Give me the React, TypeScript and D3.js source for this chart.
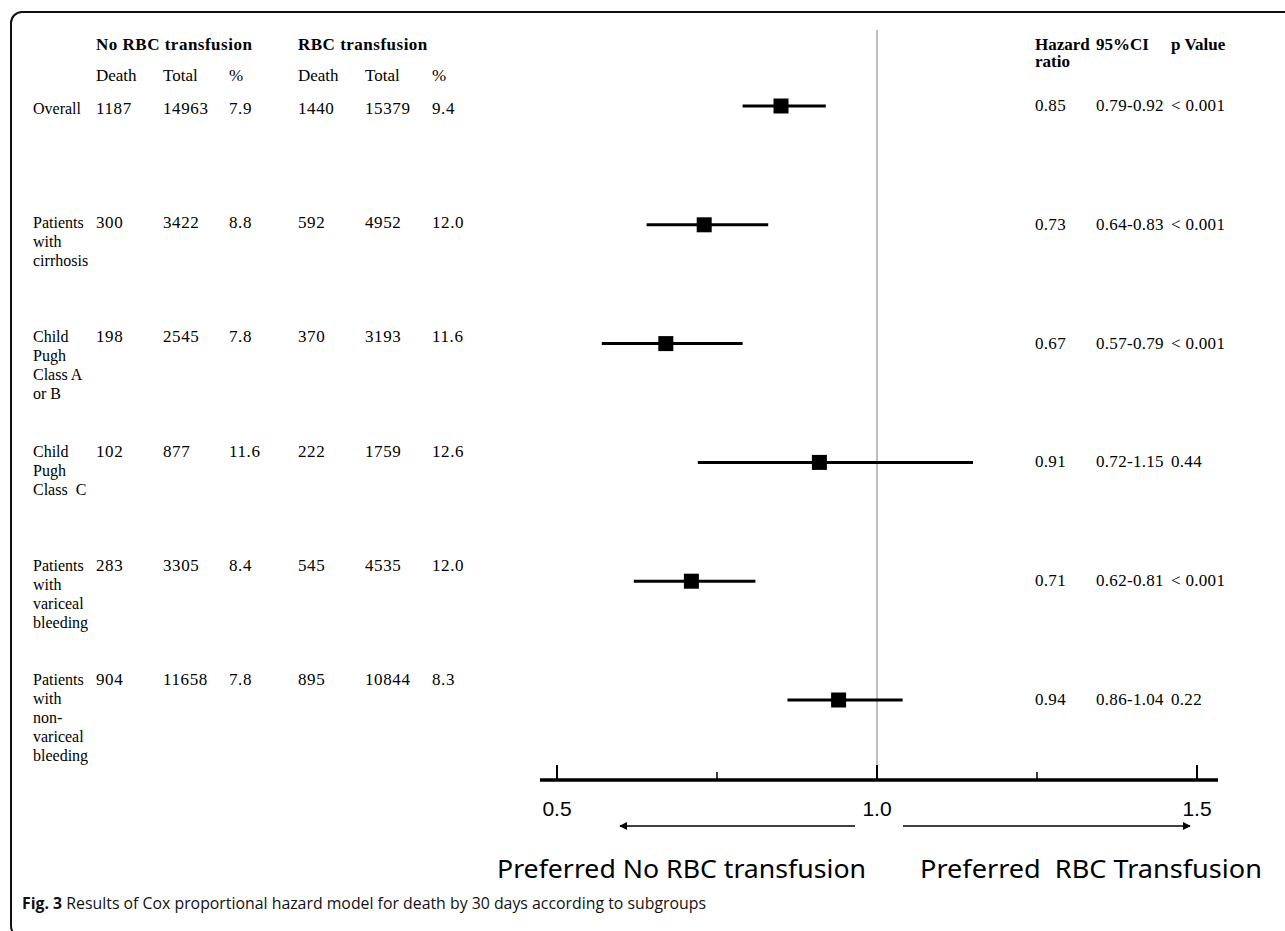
import React, { useEffect, useRef } from 'react';
import * as d3 from 'd3';

// subgroups, in the order they are drawn
const rowKeys = ['overall', 'cirrhosis', 'childAB', 'childC', 'variceal', 'nonVariceal'];
const rowLabels = [
  ['Overall'],
  ['Patients', 'with', 'cirrhosis'],
  ['Child', 'Pugh', 'Class A', 'or B'],
  ['Child', 'Pugh', 'Class  C'],
  ['Patients', 'with', 'variceal', 'bleeding'],
  ['Patients', 'with', 'non-', 'variceal', 'bleeding'],
];

const noRbcDeath = ['1187', '300', '198', '102', '283', '904'];
const noRbcTotal = ['14963', '3422', '2545', '877', '3305', '11658'];
const noRbcPct = ['7.9', '8.8', '7.8', '11.6', '8.4', '7.8'];
const rbcDeath = ['1440', '592', '370', '222', '545', '895'];
const rbcTotal = ['15379', '4952', '3193', '1759', '4535', '10844'];
const rbcPct = ['9.4', '12.0', '11.6', '12.6', '12.0', '8.3'];

const hazard = [0.85, 0.73, 0.67, 0.91, 0.71, 0.94];
const ciLow = [0.79, 0.64, 0.57, 0.72, 0.62, 0.86];
const ciHigh = [0.92, 0.83, 0.79, 1.15, 0.81, 1.04];
const pValues = ['< 0.001', '< 0.001', '< 0.001', '0.44', '< 0.001', '0.22'];

const majorTicks = [0.5, 1.0, 1.5];
const minorTicks = [0.75, 1.25];

const W = 1285;
const H = 931;

function ForestPlot() {
  const ref = useRef<SVGSVGElement>(null);

  useEffect(() => {
    const svg = d3.select(ref.current);
    svg.selectAll('*').remove();

    const serif = '"Liberation Serif", "Times New Roman", serif';
    const sans = '"Liberation Sans", Arial, sans-serif';
    const fs = '17px';

    // frame
    svg.append('rect')
      .attr('x', 11).attr('y', 12)
      .attr('width', 1320).attr('height', 925)
      .attr('rx', 11)
      .attr('fill', 'none')
      .attr('stroke', '#111')
      .attr('stroke-width', 2);

    const x = d3.scaleLinear().domain([0.5, 1.5]).range([557, 1197]);
    const y = d3.scalePoint<string>().domain(rowKeys).range([106, 700]);
    const yTable = d3.scalePoint<string>().domain(rowKeys).range([109, 680]);
    const lineH = 19;

    // left table headers
    const colX = [96, 163, 229, 298, 365, 432];
    svg.append('text').attr('x', colX[0]).attr('y', 50)
      .style('font-family', serif).style('font-size', '17px').style('font-weight', 'bold')
      .style('letter-spacing', '0.5px')
      .text('No RBC transfusion');
    svg.append('text').attr('x', colX[3]).attr('y', 50)
      .style('font-family', serif).style('font-size', '17px').style('font-weight', 'bold')
      .style('letter-spacing', '0.5px')
      .text('RBC transfusion');
    ['Death', 'Total', '%', 'Death', 'Total', '%'].forEach((t, i) => {
      svg.append('text').attr('x', colX[i]).attr('y', 81)
        .style('font-family', serif).style('font-size', fs)
        .text(t);
    });

    const cols = [noRbcDeath, noRbcTotal, noRbcPct, rbcDeath, rbcTotal, rbcPct];
    rowKeys.forEach((k, r) => {
      const ty = (yTable(k) as number) + 5;
      const lbl = svg.append('text')
        .attr('x', 33).attr('y', ty)
        .style('font-family', serif).style('font-size', '16px');
      rowLabels[r].forEach((line, j) => {
        lbl.append('tspan').attr('x', 33).attr('y', ty + j * lineH)
          .attr('xml:space', 'preserve').style('white-space', 'pre').text(line);
      });
      cols.forEach((col, c) => {
        svg.append('text').attr('x', colX[c]).attr('y', ty)
          .style('font-family', serif).style('font-size', fs)
          .style('letter-spacing', '0.6px')
          .text(col[r]);
      });
    });

    // right table
    const rX = [1035, 1096, 1171];
    const bold = (t: string, xx: number, yy: number) =>
      svg.append('text').attr('x', xx).attr('y', yy)
        .style('font-family', serif).style('font-size', '17px').style('font-weight', 'bold')
        .text(t);
    bold('Hazard', rX[0], 50);
    bold('ratio', rX[0], 67);
    bold('95%CI', rX[1], 50);
    bold('p Value', rX[2], 50);

    rowKeys.forEach((k, r) => {
      const ty = (y(k) as number) + 5;
      [hazard[r].toFixed(2), `${ciLow[r].toFixed(2)}-${ciHigh[r].toFixed(2)}`, pValues[r]].forEach((t, c) => {
        svg.append('text').attr('x', rX[c]).attr('y', ty)
          .attr('xml:space', 'preserve').style('white-space', 'pre')
          .style('font-family', serif).style('font-size', fs)
          .style('letter-spacing', '0.3px')
          .text(t);
      });
    });

    // reference line at HR = 1
    svg.append('line')
      .attr('x1', x(1)).attr('x2', x(1))
      .attr('y1', 30).attr('y2', 780)
      .attr('stroke', '#a8a8a8').attr('stroke-width', 1.5);

    // CI lines + squares
    const g = svg.append('g');
    g.selectAll('line.ci')
      .data(rowKeys)
      .enter()
      .append('line')
      .attr('class', 'ci')
      .attr('x1', (d, i) => x(ciLow[i]))
      .attr('x2', (d, i) => x(ciHigh[i]))
      .attr('y1', d => y(d) as number)
      .attr('y2', d => y(d) as number)
      .attr('stroke', '#000')
      .attr('stroke-width', 3);
    const sq = 15;
    g.selectAll('rect.hr')
      .data(rowKeys)
      .enter()
      .append('rect')
      .attr('class', 'hr')
      .attr('x', (d, i) => x(hazard[i]) - sq / 2)
      .attr('y', d => (y(d) as number) - sq / 2)
      .attr('width', sq)
      .attr('height', sq)
      .attr('fill', '#000');

    // axis
    const axisY = 780;
    svg.append('line')
      .attr('x1', 540).attr('x2', 1218)
      .attr('y1', axisY).attr('y2', axisY)
      .attr('stroke', '#000').attr('stroke-width', 3.5);
    majorTicks.forEach(t => {
      svg.append('line')
        .attr('x1', x(t)).attr('x2', x(t))
        .attr('y1', axisY - 15).attr('y2', axisY)
        .attr('stroke', '#000').attr('stroke-width', 2);
      svg.append('text')
        .attr('x', x(t)).attr('y', 816)
        .attr('text-anchor', 'middle')
        .style('font-family', sans).style('font-size', '21px')
        .text(t.toFixed(1));
    });
    minorTicks.forEach(t => {
      svg.append('line')
        .attr('x1', x(t)).attr('x2', x(t))
        .attr('y1', axisY - 8).attr('y2', axisY)
        .attr('stroke', '#000').attr('stroke-width', 1.5);
    });

    // arrows
    const defs = svg.append('defs');
    defs.append('marker')
      .attr('id', 'arrowhead')
      .attr('viewBox', '0 0 10 10')
      .attr('refX', 9).attr('refY', 5)
      .attr('markerWidth', 8).attr('markerHeight', 8)
      .attr('markerUnits', 'userSpaceOnUse')
      .attr('orient', 'auto')
      .append('path')
      .attr('d', 'M0,0 L10,5 L0,10 Z')
      .attr('fill', '#000');
    const arrowY = 826;
    svg.append('line')
      .attr('x1', 855).attr('x2', 620)
      .attr('y1', arrowY).attr('y2', arrowY)
      .attr('stroke', '#000').attr('stroke-width', 1.5)
      .attr('marker-end', 'url(#arrowhead)');
    svg.append('line')
      .attr('x1', 903).attr('x2', 1190)
      .attr('y1', arrowY).attr('y2', arrowY)
      .attr('stroke', '#000').attr('stroke-width', 1.5)
      .attr('marker-end', 'url(#arrowhead)');

    const labelFont = '"Noto Sans", "Open Sans", sans-serif';
    svg.append('text')
      .attr('x', 497).attr('y', 878)
      .attr('textLength', 369).attr('lengthAdjust', 'spacingAndGlyphs')
      .style('font-family', labelFont).style('font-size', '26px')
      .text('Preferred No RBC transfusion');
    svg.append('text')
      .attr('x', 920).attr('y', 878)
      .attr('textLength', 342).attr('lengthAdjust', 'spacingAndGlyphs')
      .attr('xml:space', 'preserve').style('white-space', 'pre')
      .style('font-family', labelFont).style('font-size', '26px')
      .text('Preferred  RBC Transfusion');

    // caption
    const cap = svg.append('text')
      .attr('x', 22).attr('y', 909)
      .attr('textLength', 684).attr('lengthAdjust', 'spacingAndGlyphs')
      .style('font-family', '"Open Sans", "Noto Sans", sans-serif').style('font-size', '16px')
      .style('fill', '#111');
    cap.append('tspan').style('font-weight', 'bold').text('Fig. 3');
    cap.append('tspan').text(' Results of Cox proportional hazard model for death by 30 days according to subgroups');
  }, []);

  return (
    <svg
      ref={ref}
      width={W}
      height={H}
      style={{ position: 'absolute', left: 0, top: 0, background: '#fff' }}
    />
  );
}

export default function App() {
  return <ForestPlot />;
}
